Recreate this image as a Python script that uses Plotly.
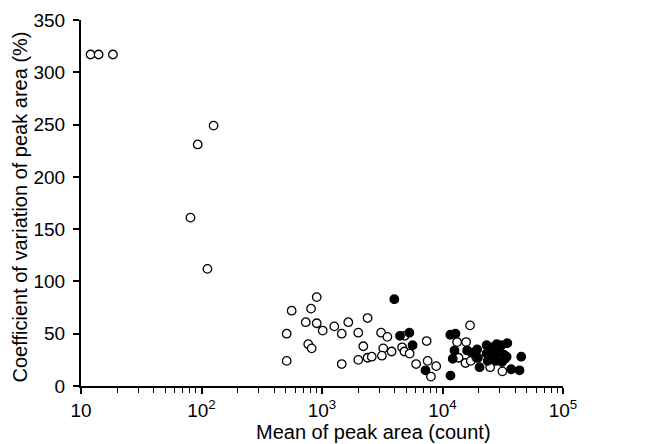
import plotly.graph_objects as go

# Open circles (mean peak area, CV %)
open_x = [12, 14, 18.4, 126, 93, 81, 112,
          904, 560, 811, 733, 904, 1013, 1265, 1458, 1653, 2000, 509, 769, 821,
          2203, 509, 1458, 2000, 2388, 2388, 2588, 3093, 3488, 3223, 3142, 3783,
          4623, 4831, 4853, 5337, 6039, 7385, 7530, 8865, 8017, 13220, 13590,
          15700, 15500, 16920, 17150, 19120, 24850, 26940, 31400]
open_y = [317, 317, 317, 249, 231, 161, 112,
          85, 72, 74, 61, 60, 53, 57, 50, 61, 51, 50, 40, 36,
          38, 24, 21, 25, 65, 27, 28, 51, 47, 36, 29, 33,
          37, 33, 48, 31, 21, 43, 24, 19, 9, 42, 27,
          42, 22, 58, 24, 27, 18, 26, 14]

# Filled circles
filled_x = [3981, 4440, 5312, 5645, 7220, 11610, 12820, 12580, 12160, 11650,
            15990, 17500, 19390, 19670, 20310, 23230, 25720, 28160, 30830, 34490,
            23230, 23730, 25980, 27800, 29730, 32300, 33020, 31150, 34070, 37180,
            45020, 43570]
filled_y = [83, 48, 51, 39, 15, 49, 50, 34, 26, 10,
            34, 32, 35, 27, 18, 39, 37, 40, 39, 41,
            31, 24, 31, 24, 32, 30, 26, 23, 28, 16,
            28, 15]

x_tickvals = [10, 100, 1000, 10000, 100000]
x_ticktext = ["10", "10<sup>2</sup>", "10<sup>3</sup>", "10<sup>4</sup>", "10<sup>5</sup>"]
y_tickvals = [0, 50, 100, 150, 200, 250, 300, 350]
x_title = "Mean of peak area (count)"
y_title = "Coefficient of variation of peak area (%)"

FONT = "Liberation Sans, Arial, sans-serif"

fig = go.Figure()
fig.add_trace(go.Scatter(
    x=open_x, y=open_y, mode="markers",
    marker=dict(symbol="circle", size=8.5, color="white",
                line=dict(color="black", width=1.3)),
    showlegend=False, cliponaxis=False))
fig.add_trace(go.Scatter(
    x=filled_x, y=filled_y, mode="markers",
    marker=dict(symbol="circle", size=8.5, color="black",
                line=dict(color="black", width=1.3)),
    showlegend=False, cliponaxis=False))

# page has an 8px body margin, so the figure is a little smaller than the window
fig.update_layout(
    width=648, height=436,
    margin=dict(l=73, r=93, t=12, b=58),
    paper_bgcolor="white", plot_bgcolor="white",
    font=dict(family=FONT, size=19, color="black"),
    annotations=[
        dict(text=x_title, xref="paper", yref="paper", x=0.606, y=-0.126,
             xanchor="center", yanchor="middle", showarrow=False,
             font=dict(size=20)),
        dict(text=y_title, xref="paper", yref="paper", x=-0.127, y=0.49,
             xanchor="center", yanchor="middle", showarrow=False,
             textangle=-90, font=dict(size=20)),
    ],
)
fig.update_xaxes(
    type="log", range=[1, 5],
    tickvals=x_tickvals, ticktext=x_ticktext,
    ticks="outside", ticklen=6, tickwidth=1.5, tickcolor="black",
    minor=dict(ticks="outside", ticklen=5, tickwidth=1.3, tickcolor="black", dtick="D1"),
    showline=True, linecolor="black", linewidth=2,
    showgrid=False, zeroline=False, automargin=False,
    tickfont=dict(size=19),
)
fig.update_yaxes(
    range=[0, 350], tickvals=y_tickvals,
    ticks="outside", ticklen=6, tickwidth=1.5, tickcolor="black",
    showline=True, linecolor="black", linewidth=2,
    showgrid=False, zeroline=False, automargin=False,
    ticklabelstandoff=4,
    tickfont=dict(size=19),
)

fig.write_html("out.html")
